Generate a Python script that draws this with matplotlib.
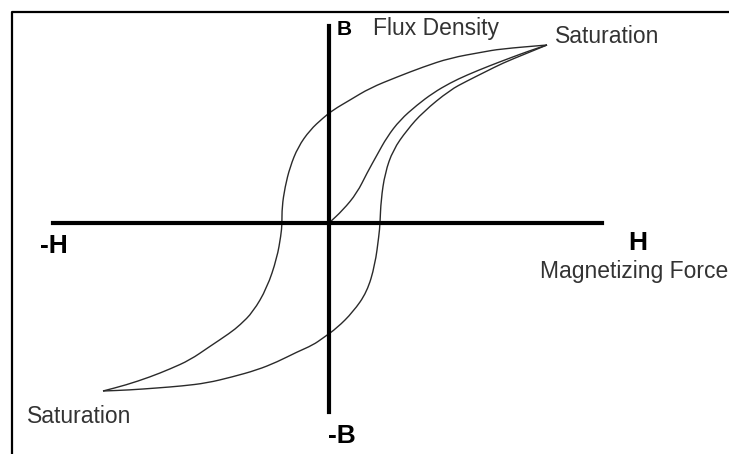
import numpy as np
import matplotlib.pyplot as plt
from matplotlib.path import Path
from matplotlib.patches import PathPatch

# curve points (H, B in pixel-sized units, origin at the axes crossing)
upper_h = [218, 171, 154, 121, 94, 68, 41, 21, 4, -6, -19, -31, -39, -44, -47, -47,
           -48, -52, -62, -76, -89, -99, -120, -139, -159, -179, -203, -226]
upper_b = [178, 174, 171, 165, 156, 146, 135, 123, 113, 105, 93, 76, 56, 36, 16, -1,
           -12, -35, -65, -89, -102, -110, -124, -137, -146, -154, -162, -168]

lower_h = [-226, -200, -172, -147, -122, -97, -72, -52, -32, -16, -6, 8, 24, 38, 46, 50,
           51, 52, 56, 64, 78, 94, 121, 138, 156, 174, 196, 218]
lower_b = [-168, -167, -165, -163, -160, -154, -147, -139, -129, -122, -115, -105, -89, -69, -42, -12,
           -1, 23, 50, 73, 93, 111, 133, 142, 151, 160, 169, 178]

initial_h = [0, 14, 28, 38, 48, 58, 71, 88, 104, 121, 138, 160, 181, 200, 218]
initial_b = [0, 13, 30, 50, 68, 86, 103, 118, 130, 140, 148, 157, 165, 172, 178]


def smooth_curve(ax, hs, bs, **kw):
    # quadratic bezier through the midpoints, read points act as control points
    pts = np.column_stack([hs, bs]).astype(float)
    mids = (pts[:-1] + pts[1:]) / 2
    verts = [pts[0], mids[0]]
    codes = [Path.MOVETO, Path.LINETO]
    for i in range(1, len(pts) - 1):
        verts += [pts[i], mids[i]]
        codes += [Path.CURVE3, Path.CURVE3]
    verts.append(pts[-1])
    codes.append(Path.LINETO)
    ax.add_patch(PathPatch(Path(verts, codes), fill=False, **kw))


fig = plt.figure(figsize=(7.29, 4.54), dpi=100)
ax = fig.add_axes([0, 0, 1, 1])
ax.set_xlim(-329, 400)
ax.set_ylim(-231, 223)
ax.axis('off')

# frame (left and top edges only)
ax.plot([-317, -317, 400], [-231, 211, 211], color='black', lw=1.6, solid_capstyle='butt')

# H and B axes
ax.plot([-276, 273], [0, 0], color='black', lw=3)
ax.plot([0, 0], [-189, 197], color='black', lw=3)

# hysteresis loop
curve = dict(edgecolor='#2a2a2a', lw=1.0)
smooth_curve(ax, upper_h, upper_b, **curve)
smooth_curve(ax, lower_h, lower_b, **curve)
smooth_curve(ax, initial_h, initial_b, **curve)

font = ['Liberation Sans', 'DejaVu Sans']
label = dict(family=font, fontsize=16.5, color='#333333', ha='left', va='baseline')
bold = dict(family=font, fontsize=19, fontweight='bold', color='black', ha='left', va='baseline')

ax.text(8, 188, 'B', **dict(bold, fontsize=15))
ax.text(44, 188, 'Flux Density', **label)
ax.text(226, 180, 'Saturation', **label)
ax.text(-289, -30, '-H', **bold)
ax.text(299, -27, 'H', **bold)
ax.text(211, -55, 'Magnetizing Force', **label)
ax.text(-302, -200, 'Saturation', **label)
ax.text(-1, -220, '-B', **bold)

fig.savefig('out.png', dpi=100)
